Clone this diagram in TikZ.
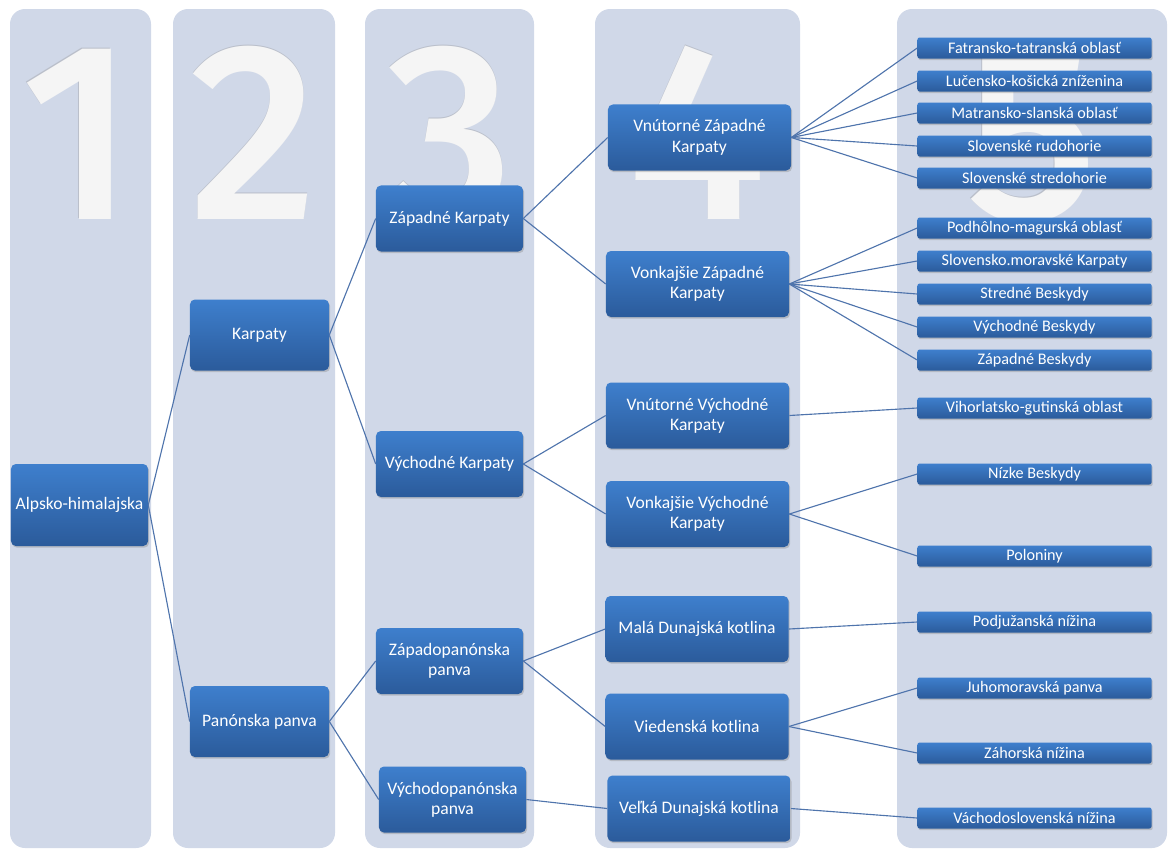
\documentclass[tikz,border=0pt]{standalone}
\usepackage{fontspec}
\setmainfont{Carlito}
\newfontfamily\numfont{Fira Sans}[UprightFont={* Medium}]
\usetikzlibrary{shadows}
\definecolor{colbg}{RGB}{208,216,232}
\definecolor{boxtop}{RGB}{62,127,205}
\definecolor{boxbot}{RGB}{43,91,155}
\definecolor{linkblue}{RGB}{79,116,172}
\definecolor{numfg}{RGB}{245,245,245}
\definecolor{numsh}{RGB}{186,191,202}
\tikzset{
    band/.style = {fill=colbg, rounded corners=0.375cm},
    bignum/.style = {anchor=base, inner sep=0pt, font=\numfont\fontsize{180}{180}\selectfont},
    unitbox/.style = {rounded corners=3.5pt, top color=boxtop, bottom color=boxbot, text=white, align=center, inner sep=1pt,
        drop shadow={shadow xshift=0.8pt, shadow yshift=-1.2pt, opacity=0.35}, font=\fontsize{12.5}{14.5}\selectfont},
    rootbox/.style = {unitbox, minimum width=3.425cm, minimum height=2.05cm},
    midbox/.style = {unitbox, minimum width=3.475cm, minimum height=1.775cm},
    subbox/.style = {unitbox, minimum width=3.675cm, minimum height=1.65cm},
    widebox/.style = {unitbox, minimum width=4.575cm, minimum height=1.65cm},
    leafbox/.style = {unitbox, rounded corners=1.5pt, minimum width=5.85cm, minimum height=0.525cm, font=\fontsize{11.5}{13}\selectfont},
    link/.style = {draw=linkblue, line width=0.8pt}}

\begin{document}
\begin{tikzpicture}[x={(0.025cm,0)}, y={(0,-0.025cm)}]
    \useasboundingbox (0,0) rectangle (1168,850);
    \fill[band] (10,9) rectangle (151,848);
    \fill[band] (173,9) rectangle (335,848);
    \fill[band] (365,9) rectangle (534,848);
    \fill[band] (595,9) rectangle (800,848);
    \fill[band] (897,9) rectangle (1167,848);
    \foreach \x/\d in {78/1, 254/2, 449.5/3, 697.5/4, 1032/5} {
        \node[bignum, text=numsh] at (\x-0.8,218) {\d};
        \node[bignum, text=numfg] (num\d) at (\x,219) {\d};
    }
    \node[rootbox] (alp) at (79.5,505) {Alpsko-himalajska};
    \node[midbox] (karp) at (259.5,335) {Karpaty};
    \node[midbox] (pan) at (259.5,721.5) {Panónska panva};
    \node[subbox] (zk) at (449.5,218.5) {Západné Karpaty};
    \node[subbox] (vk) at (449.5,464) {Východné Karpaty};
    \node[subbox] (zp) at (449.5,661) {Západopanónska\\panva};
    \node[subbox] (vp) at (452.5,799.5) {Východopanónska\\panva};
    \node[widebox] (vnzk) at (699.5,137.5) {Vnútorné Západné\\Karpaty};
    \node[widebox] (vozk) at (697.5,284) {Vonkajšie Západné\\Karpaty};
    \node[widebox] (vnvk) at (697.5,415.5) {Vnútorné Východné\\Karpaty};
    \node[widebox] (vovk) at (697.5,514) {Vonkajšie Východné\\Karpaty};
    \node[widebox] (mdk) at (697,629) {Malá Dunajská kotlina};
    \node[widebox] (vdk) at (697,726.5) {Viedenská kotlina};
    \node[widebox] (vlk) at (699,808.5) {Veľká Dunajská kotlina};
    \foreach \n/\y/\t in {fat/48/Fatransko-tatranská oblasť, luc/81/Lučensko-košická zníženina,
        mat/113/Matransko-slanská oblasť, rud/146/Slovenské rudohorie, str/178/Slovenské stredohorie,
        pod/228/Podhôlno-magurská oblasť, smk/261/Slovensko.moravské Karpaty, sb/294/Stredné Beskydy,
        vb/327/Východné Beskydy, zb/360/Západné Beskydy, vih/408/Vihorlatsko-gutinská oblast,
        nb/474/Nízke Beskydy, pol/556/Poloniny, pdj/622/Podjužanská nížina,
        jmp/688/Juhomoravská panva, zah/753/Záhorská nížina, vsn/818/Váchodoslovenská nížina}
        \node[leafbox] (\n) at (1034.5,\y) {\t};
    \foreach \a/\b in {alp/karp, alp/pan, karp/zk, karp/vk, pan/zp, pan/vp,
        zk/vnzk, zk/vozk, vk/vnvk, vk/vovk, zp/mdk, zp/vdk, vp/vlk,
        vnzk/fat, vnzk/luc, vnzk/mat, vnzk/rud, vnzk/str,
        vozk/pod, vozk/smk, vozk/sb, vozk/vb, vozk/zb,
        vnvk/vih, vovk/nb, vovk/pol, mdk/pdj, vdk/jmp, vdk/zah, vlk/vsn}
        \draw[link] (\a.east) -- (\b.west);
\end{tikzpicture}
\end{document}
